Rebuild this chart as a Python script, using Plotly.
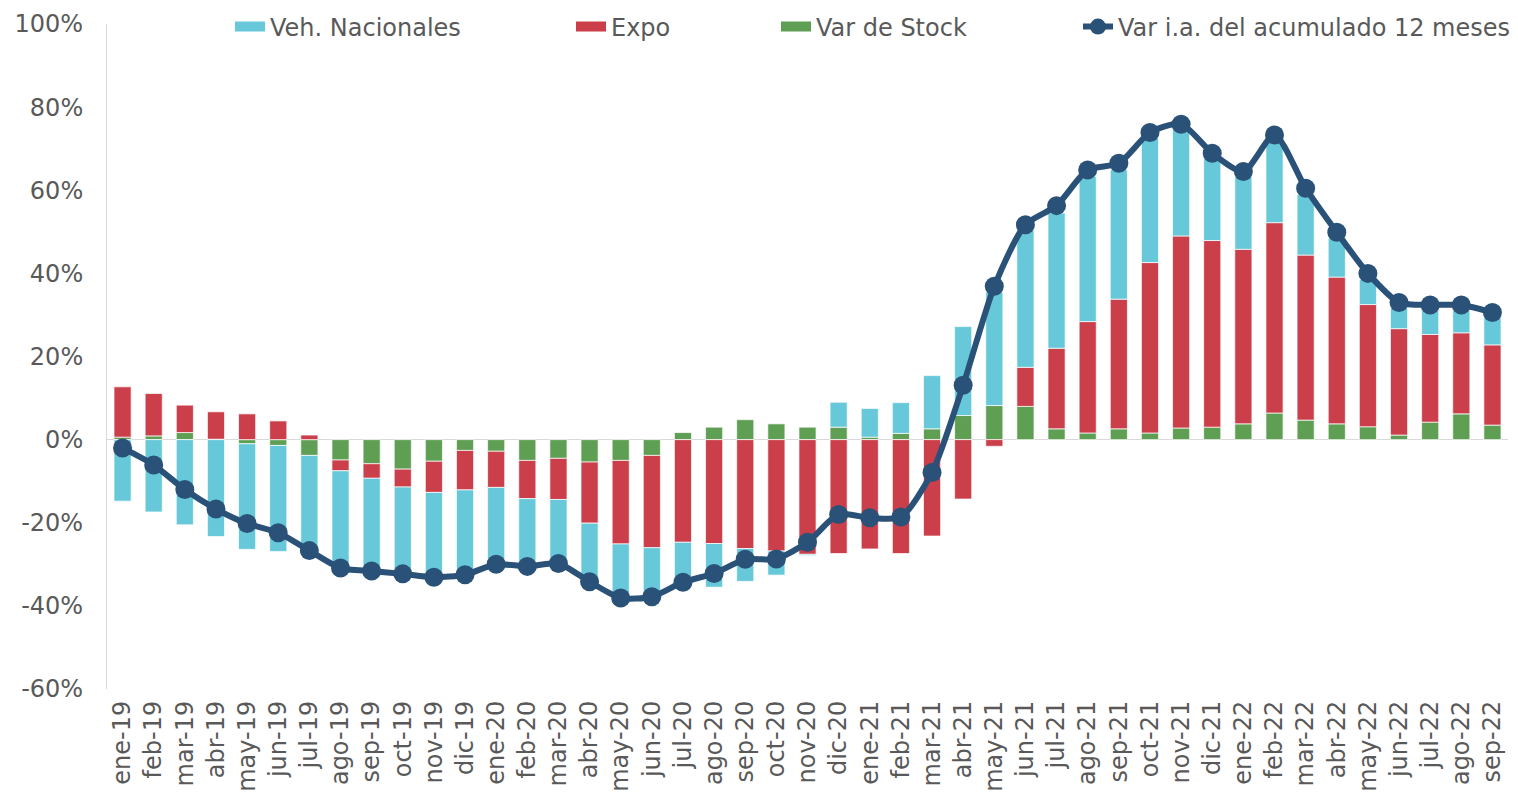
import plotly.graph_objects as go

categories = ["ene-19","feb-19","mar-19","abr-19","may-19","jun-19","jul-19","ago-19","sep-19","oct-19","nov-19","dic-19",
              "ene-20","feb-20","mar-20","abr-20","may-20","jun-20","jul-20","ago-20","sep-20","oct-20","nov-20","dic-20",
              "ene-21","feb-21","mar-21","abr-21","may-21","jun-21","jul-21","ago-21","sep-21","oct-21","nov-21","dic-21",
              "ene-22","feb-22","mar-22","abr-22","may-22","jun-22","jul-22","ago-22","sep-22"]

veh_nacionales = [-14.8, -17.4, -20.5, -23.3, -25.4, -25.5, -23.7, -23.5, -22.7, -21.1, -20.3, -20.4,
                  -19.0, -16.6, -15.9, -13.7, -12.1, -11.0, -9.3, -10.5, -7.9, -5.8, -0.3, 6.0,
                  6.9, 7.4, 12.8, 21.4, 27.3, 33.1, 32.5, 34.9, 31.1, 29.9, 26.3, 19.8,
                  17.5, 19.5, 14.5, 9.4, 6.0, 5.0, 5.9, 5.4, 6.8]

expo = [12.1, 10.2, 6.6, 6.6, 6.2, 4.5, 1.1, -2.6, -3.5, -4.3, -7.5, -9.5,
        -8.7, -9.2, -9.9, -14.7, -20.1, -22.2, -24.7, -25.0, -26.2, -26.8, -27.6, -27.4,
        -26.3, -27.4, -23.2, -14.3, -1.6, 9.4, 19.4, 26.8, 31.2, 41.0, 46.2, 44.9,
        42.0, 45.8, 39.7, 35.3, 29.4, 25.6, 21.1, 19.5, 19.3]

var_stock = [0.6, 0.9, 1.7, 0.1, -1.0, -1.4, -3.8, -4.9, -5.8, -7.1, -5.2, -2.6,
             -2.8, -5.0, -4.5, -5.4, -5.0, -3.8, 1.7, 3.0, 4.8, 3.8, 3.0, 3.0,
             0.6, 1.5, 2.6, 5.8, 8.2, 8.0, 2.6, 1.6, 2.6, 1.6, 2.8, 3.0,
             3.8, 6.4, 4.7, 3.8, 3.1, 1.1, 4.2, 6.2, 3.5]

var_ia_12m = [-2.0, -6.1, -12.0, -16.7, -20.2, -22.4, -26.7, -30.9, -31.6, -32.3, -33.1, -32.5,
              -30.0, -30.5, -29.8, -34.2, -38.1, -37.8, -34.3, -32.2, -28.8, -28.7, -24.7, -18.0,
              -18.8, -18.6, -7.9, 13.1, 36.9, 51.7, 56.3, 64.9, 66.5, 73.9, 75.9, 68.9,
              64.5, 73.3, 60.5, 49.9, 40.0, 33.0, 32.4, 32.4, 30.6]

y_tick_values = [-0.6, -0.4, -0.2, 0.0, 0.2, 0.4, 0.6, 0.8, 1.0]
y_tick_labels = ["-60%", "-40%", "-20%", "0%", "20%", "40%", "60%", "80%", "100%"]

C_VEH = "#67C8D9"
C_EXPO = "#CB3F4A"
C_STOCK = "#5F9F54"
C_LINE = "#2A5278"
FONT = "DejaVu Sans"
TXT = "#595959"
FS = 24

def pct(v):
    return [x / 100 for x in v]

fig = go.Figure()
bar_line = dict(color="rgba(255,255,255,0.7)", width=1)
fig.add_trace(go.Bar(x=categories, y=pct(var_stock), name="Var de Stock", showlegend=False,
                     marker=dict(color=C_STOCK, line=bar_line)))
fig.add_trace(go.Bar(x=categories, y=pct(expo), name="Expo", showlegend=False,
                     marker=dict(color=C_EXPO, line=bar_line)))
fig.add_trace(go.Bar(x=categories, y=pct(veh_nacionales), name="Veh. Nacionales", showlegend=False,
                     marker=dict(color=C_VEH, line=bar_line)))
fig.add_trace(go.Scatter(x=categories, y=pct(var_ia_12m), name="Var i.a. del acumulado 12 meses",
                         mode="lines+markers", line=dict(color=C_LINE, width=6, shape="spline", smoothing=0.7),
                         marker=dict(color=C_LINE, size=19), legend="legend5"))

# legend keys drawn as wide colour swatches, like the original
for name, color, lg in [("Veh. Nacionales", C_VEH, "legend2"), ("Expo", C_EXPO, "legend3"),
                        ("Var de Stock", C_STOCK, "legend4")]:
    fig.add_trace(go.Scatter(x=[None], y=[None], mode="lines", name=name,
                             line=dict(color=color, width=13), legend=lg, hoverinfo="skip"))

# the page body adds an 8px offset; figure sized to fit the window
OFF = 8
W, H = 1510, 789
L, R, T, B = 99, 10, 16, 108
pw = W - L - R
ph = H - T - B

def lx(page_px):
    return (page_px - OFF - L) / pw

ly = 1 - (27 - OFF - T) / ph

def leg(page_px):
    return dict(x=lx(page_px), y=ly, xanchor="left", yanchor="middle", orientation="h",
                font=dict(family=FONT, size=FS, color=TXT), bgcolor="rgba(0,0,0,0)",
                itemwidth=30, tracegroupgap=0)

fig.update_layout(
    width=W, height=H,
    margin=dict(l=L, r=R, t=T, b=B, autoexpand=False),
    paper_bgcolor="white", plot_bgcolor="white",
    barmode="relative", bargap=0.45,
    font=dict(family=FONT, size=FS, color=TXT),
    legend2=leg(230), legend3=leg(571), legend4=leg(776), legend5=leg(1078),
    xaxis=dict(type="category", range=[-0.5, len(categories) - 0.5], tickangle=-90,
               showgrid=False, showline=False, zeroline=False,
               tickfont=dict(family=FONT, size=FS, color=TXT), ticks="", ticklabelstandoff=6),
    yaxis=dict(range=[-0.6, 1.0], tickmode="array", tickvals=y_tick_values, ticktext=y_tick_labels,
               showgrid=False, zeroline=True, zerolinecolor="#D9D9D9", zerolinewidth=1,
               showline=True, linecolor="#D9D9D9", linewidth=1, ticks="",
               tickfont=dict(family=FONT, size=FS, color=TXT), ticklabelstandoff=18),
)

fig.write_html("out.html")
